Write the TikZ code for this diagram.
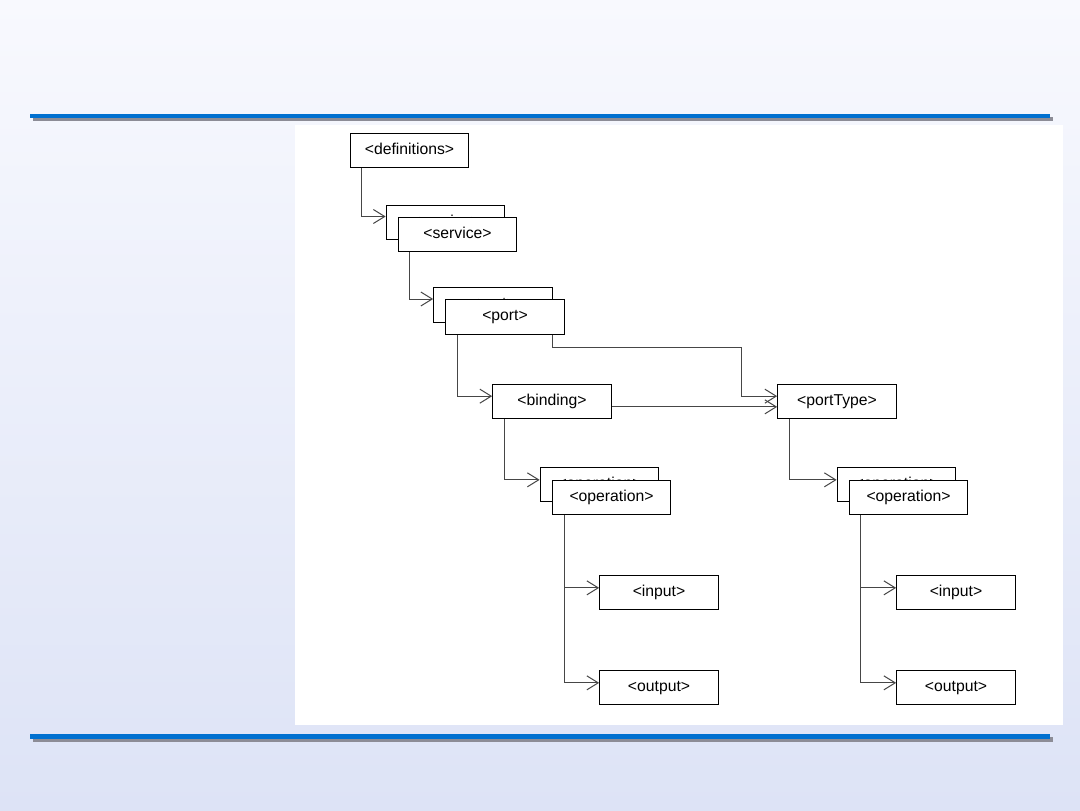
\documentclass[tikz,border=0pt]{standalone}
\usepackage{fontspec}
\setmainfont{Liberation Sans}
\usetikzlibrary{arrows.meta}

\definecolor{slideblue}{RGB}{0,112,208}
\definecolor{slidetop}{RGB}{248,249,254}
\definecolor{slidebottom}{RGB}{221,227,246}
\definecolor{barshadow}{RGB}{140,140,150}
\definecolor{linkgray}{RGB}{70,70,70}

\tikzset{
  elem/.style={draw, fill=white, line width=0.8pt, minimum width=89pt, minimum height=26pt, inner sep=0pt,
    text height=8.5pt, text depth=2.7pt, font=\fontsize{11.8}{13}\selectfont},
  link/.style={->, draw=linkgray, line width=0.75pt},
}

\begin{document}
\begin{tikzpicture}[x=0.75pt, y=-0.75pt, >={Straight Barb[length=8.5pt,width=10.5pt]}]
    % slide background
    \shade[top color=slidetop, bottom color=slidebottom] (0,0) rectangle (1080,810);
    \useasboundingbox (0,0) rectangle (1080,810);
    \fill[barshadow] (33,117) rectangle (1053,121);
    \fill[slideblue] (30,114) rectangle (1050,118);
    \fill[barshadow] (33,737) rectangle (1053,742);
    \fill[slideblue] (30,734) rectangle (1050,739);
    \fill[white] (295,125) rectangle (1063,725);

    % element boxes
    \node[elem] (defs) at (409.5,150.5) {<definitions>};
    \node[elem] (servback) at (445.5,222.5) {<service>};
    \node[elem] (serv) at ([shift={(12,12)}]servback) {<service>};
    \node[elem] (portback) at (493,305) {<port>};
    \node[elem] (port) at ([shift={(12,12)}]portback) {<port>};
    \node[elem] (bind) at (552,401.5) {<binding>};
    \node[elem] (ptype) at (837,401.5) {<portType>};
    \node[elem] (bopback) at (599.5,484.5) {<operation>};
    \node[elem] (bop) at ([shift={(12,13)}]bopback) {<operation>};
    \node[elem] (popback) at (896.5,484.5) {<operation>};
    \node[elem] (pop) at ([shift={(12,13)}]popback) {<operation>};
    \node[elem] (binput) at (659,592.5) {<input>};
    \node[elem] (boutput) at (659,687.5) {<output>};
    \node[elem] (pinput) at (956,592.5) {<input>};
    \node[elem] (poutput) at (956,687.5) {<output>};

    % links
    \draw[link] ([xshift=9pt]defs.south west) |- ([yshift=4.5pt]servback.west);
    \draw[link] ([xshift=9pt]serv.south west) |- ([yshift=4.5pt]portback.west);
    \draw[link] ([xshift=9pt]port.south west) |- ([yshift=4pt]bind.west);
    \draw[link] ([xshift=-9pt]port.south east) -- ++(0,13) -| ([xshift=-27pt,yshift=4pt]ptype.west) -- ([yshift=4pt]ptype.west);
    \draw[link] ([yshift=-4pt]bind.east) -- ([yshift=-4pt]ptype.west);
    \draw[link] ([xshift=9pt]bind.south west) |- ([yshift=3.5pt]bopback.west);
    \draw[link] ([xshift=9pt]ptype.south west) |- ([yshift=3.5pt]popback.west);
    \draw[link] ([xshift=9.5pt]bop.south west) |- ([yshift=3.5pt]binput.west);
    \draw[link] ([xshift=9.5pt]bop.south west) |- ([yshift=3.5pt]boutput.west);
    \draw[link] ([xshift=9pt]pop.south west) |- ([yshift=3.5pt]pinput.west);
    \draw[link] ([xshift=9pt]pop.south west) |- ([yshift=3.5pt]poutput.west);
\end{tikzpicture}
\end{document}
